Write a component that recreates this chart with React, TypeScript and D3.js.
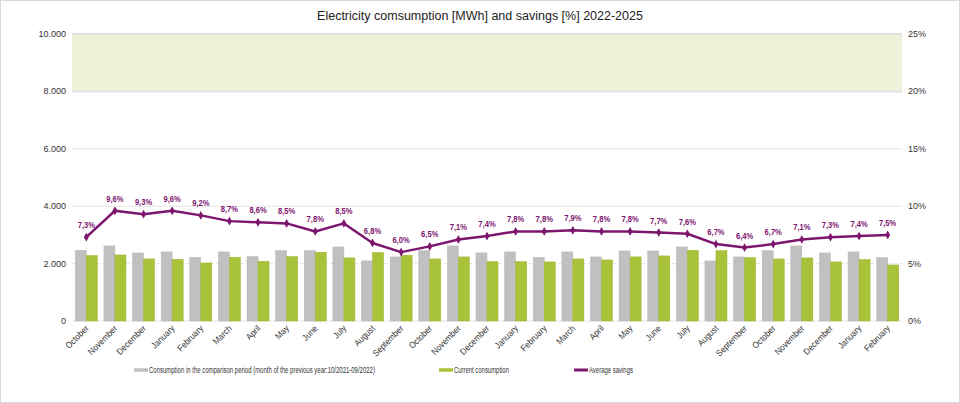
import React, { useEffect, useRef } from "react";
import * as d3 from "d3";

// months of the period 10/2022 - 02/2025
const categories = [
  "October", "November", "December", "January", "February", "March", "April", "May", "June",
  "July", "August", "September", "October", "November", "December", "January", "February",
  "March", "April", "May", "June", "July", "August", "September", "October", "November",
  "December", "January", "February",
];
// consumption of the same month in 10/2021-09/2022 (MWh)
const previousYear = [
  2465, 2616, 2372, 2407, 2221, 2407, 2244, 2453, 2453, 2581, 2093, 2233, 2453, 2616, 2372,
  2407, 2221, 2407, 2233, 2442, 2442, 2581, 2093, 2233, 2453, 2616, 2372, 2407, 2209,
];
// current consumption (MWh)
const current = [
  2279, 2302, 2163, 2151, 2023, 2221, 2081, 2244, 2395, 2198, 2384, 2291, 2163, 2233, 2070,
  2070, 2058, 2163, 2128, 2233, 2267, 2465, 2453, 2209, 2163, 2198, 2058, 2140, 1953,
];
// average savings (%)
const savings = [
  7.3, 9.6, 9.3, 9.6, 9.2, 8.7, 8.6, 8.5, 7.8, 8.5, 6.8, 6.0, 6.5, 7.1, 7.4, 7.8, 7.8, 7.9,
  7.8, 7.8, 7.7, 7.6, 6.7, 6.4, 6.7, 7.1, 7.3, 7.4, 7.5,
];
const leftTicks = [0, 2000, 4000, 6000, 8000, 10000];
const rightTicks = [0, 5, 10, 15, 20, 25];
const legendLabels = [
  "Consumption in the comparison period (month of the previous year:10/2021-09/2022)",
  "Current consumption",
  "Average savings",
];

const W = 960;
const H = 403;
const GREY = "#c0c0c0";
const GREEN = "#a8c23a";
const PURPLE = "#7d166f";
const FONT = "'Liberation Sans', Arial, sans-serif";

const de = d3.formatLocale({ decimal: ",", thousands: ".", grouping: [3], currency: ["", "€"] });
const fmtNum = de.format(",d");
const fmtPct = (v: number) => de.format(".1f")(v) + "%";

// legend entries: swatch start, text start, text width
const legendPos = [
  { x: 134, w: 226 },
  { x: 439, w: 55 },
  { x: 574, w: 44 },
];
const legendColors = [GREY, GREEN, PURPLE];

export default function App() {
  const legendRef = useRef<SVGGElement>(null);

  useEffect(() => {
    document.body.style.margin = "0";
    // squeeze the legend texts to the narrow width of the original
    d3.select(legendRef.current)
      .selectAll<SVGTextElement, unknown>("text")
      .each(function (_, i) {
        const len = this.getComputedTextLength();
        const p = legendPos[i];
        d3.select(this).attr("transform", `translate(${p.x + 15},373) scale(${p.w / len},1)`);
      });
  }, []);

  const left = 72, right = 902, top = 34, bottom = 321;

  const x = d3.scaleBand<number>()
    .domain(d3.range(categories.length))
    .range([left, right])
    .paddingInner(0.23)
    .paddingOuter(0.115);
  const sub = d3.scaleBand<number>().domain([0, 1]).range([0, x.bandwidth()]);
  const yL = d3.scaleLinear().domain([0, 10000]).range([bottom, top]);
  const yR = d3.scaleLinear().domain([0, 25]).range([bottom, top]);
  const cx = (i: number) => (x(i) as number) + x.bandwidth() / 2;

  const line = d3.line<number>()
    .x((_, i) => cx(i))
    .y((d) => yR(d));

  const diamond = d3.symbol().type(d3.symbolDiamond).size(22)();

  return (
    <svg width={W} height={H} style={{ display: "block", fontFamily: FONT }}>
      <rect x={0.5} y={0.5} width={W - 1} height={H - 1} fill="#fff" stroke="#d9d9d9" />
      <text x={480} y={20} textAnchor="middle" fontSize={12.5} fill="#222">
        Electricity comsumption [MWh] and savings [%] 2022-2025
      </text>

      {/* target band 8.000 - 10.000 */}
      <rect x={left} y={yL(10000)} width={right - left} height={yL(8000) - yL(10000)} fill="#eef2d9" />

      {leftTicks.map((t) => (
        <line
          key={t}
          x1={left}
          x2={right}
          y1={yL(t)}
          y2={yL(t)}
          stroke={t >= 8000 ? "#e0e0e0" : "#e4e4e4"}
          strokeWidth={t >= 8000 ? 2 : 1}
          strokeDasharray={t === 2000 ? "4,2" : undefined}
        />
      ))}
      {leftTicks.map((t) => (
        <text key={t} x={66} y={yL(t) + 3} textAnchor="end" fontSize={9} fill="#333">
          {fmtNum(t)}
        </text>
      ))}
      {rightTicks.map((t) => (
        <text key={t} x={908} y={yR(t) + 3} fontSize={9} fill="#333">
          {t}%
        </text>
      ))}

      {previousYear.map((v, i) => (
        <rect key={"p" + i} x={(x(i) as number) + (sub(0) as number)} y={yL(v)}
          width={sub.bandwidth()} height={yL(0) - yL(v)} fill={GREY} stroke="#b8b8b8" strokeWidth={0.5} />
      ))}
      {current.map((v, i) => (
        <rect key={"c" + i} x={(x(i) as number) + (sub(1) as number)} y={yL(v)}
          width={sub.bandwidth()} height={yL(0) - yL(v)} fill={GREEN} stroke="#9bb52c" strokeWidth={0.5} />
      ))}

      <path d={line(savings) || ""} fill="none" stroke={PURPLE} strokeWidth={2.5} strokeLinejoin="round" />
      {savings.map((v, i) => (
        <path key={"m" + i} d={diamond || ""} transform={`translate(${cx(i)},${yR(v)})`} fill={PURPLE} />
      ))}
      {savings.map((v, i) => (
        <g key={"l" + i} transform={`translate(${cx(i)},${yR(v) - 9}) scale(0.8,1)`}>
          <text textAnchor="middle" fontSize={9.5} fontWeight="bold" fill={PURPLE}>
            {fmtPct(v)}
          </text>
        </g>
      ))}

      {categories.map((c, i) => (
        <g key={"x" + i} transform={`translate(${cx(i) + 3},${bottom + 8}) rotate(-45)`}>
          <text textAnchor="end" fontSize={9} fill="#333" transform="scale(0.9,1)">
            {c}
          </text>
        </g>
      ))}

      {/* legend */}
      <g ref={legendRef}>
        {legendLabels.map((l, i) => (
          <line key={"s" + i} x1={legendPos[i].x} x2={legendPos[i].x + 14} y1={370} y2={370}
            stroke={legendColors[i]} strokeWidth={i === 2 ? 3 : 3.5} />
        ))}
        {legendLabels.map((l, i) => (
          <text key={"t" + i} x={0} y={0} fontSize={9.5} fill="#333"
            transform={`translate(${legendPos[i].x + 15},373)`}>
            {l}
          </text>
        ))}
      </g>
    </svg>
  );
}
